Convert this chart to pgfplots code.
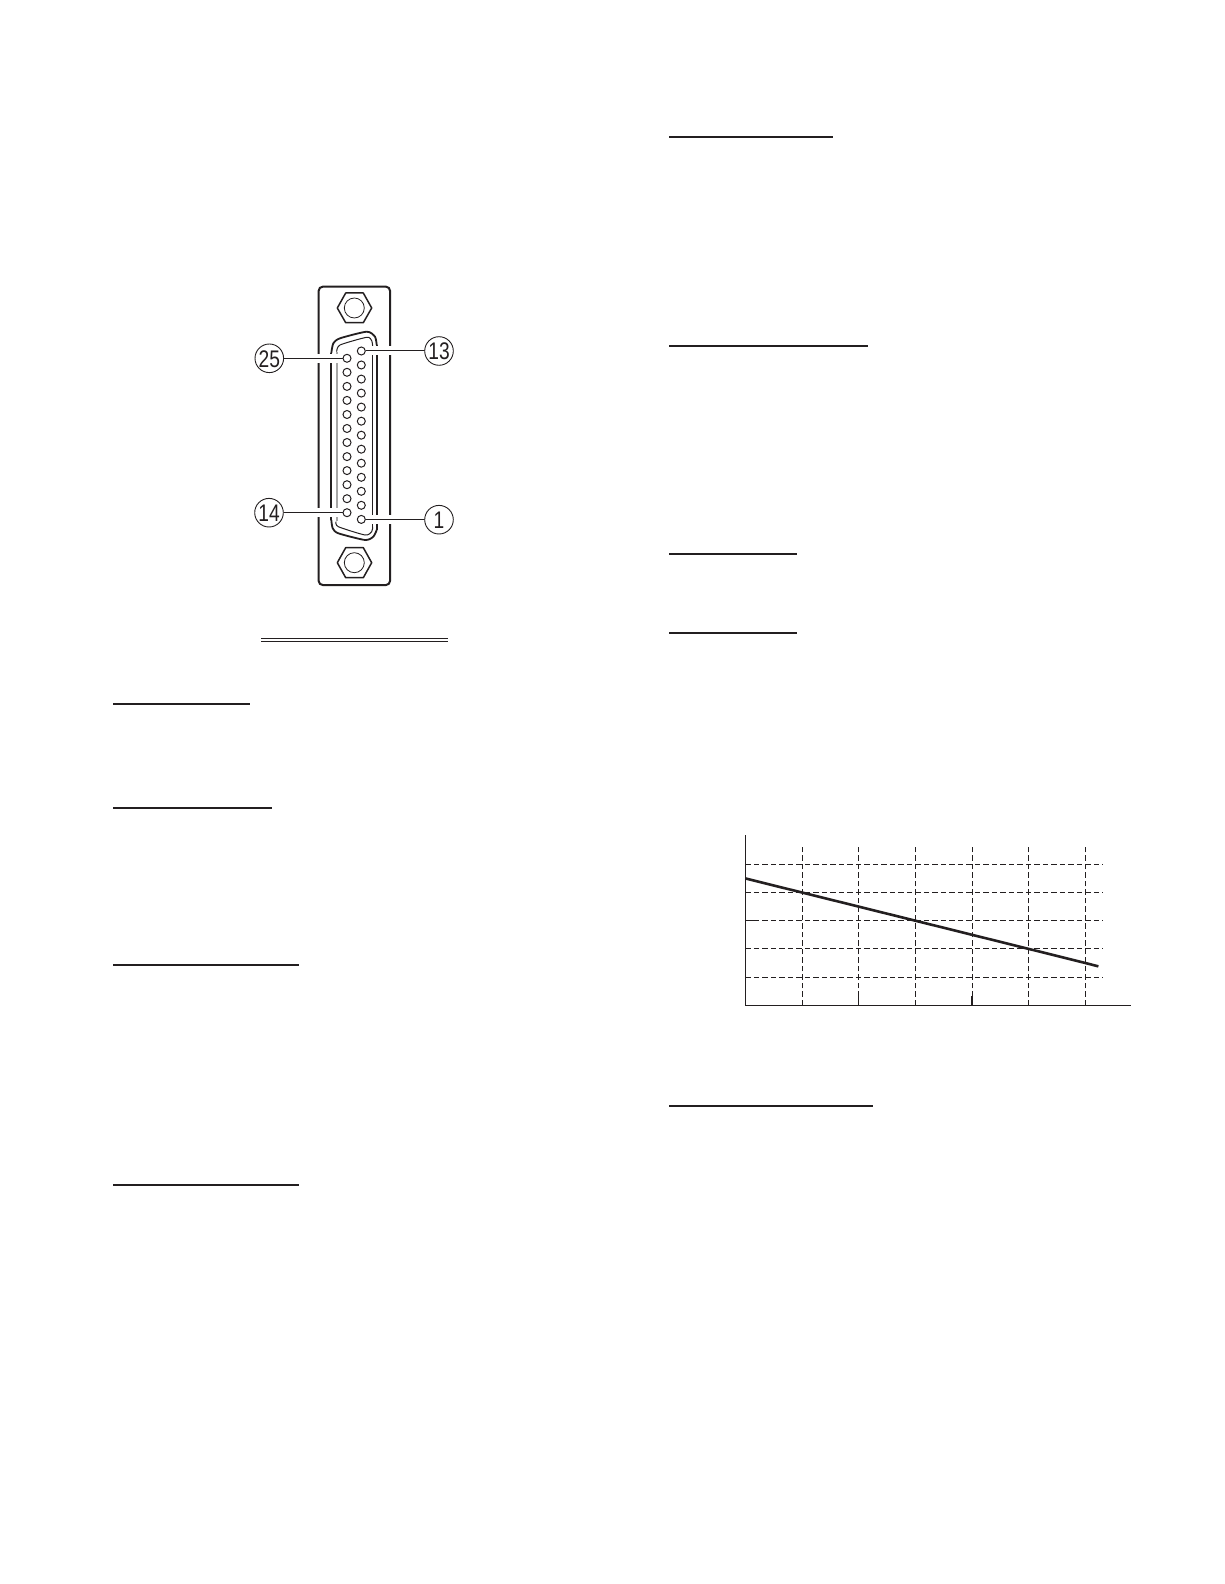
\documentclass[border=0pt]{standalone}
\usepackage{fontspec}
\setmainfont{Liberation Sans}
\usepackage{graphicx}
\usepackage{pgfplots}
\pgfplotsset{compat=1.18}
\definecolor{ink}{HTML}{231F20}

\newcommand{\numlabel}[2]{\node[text=ink,inner sep=0pt,font=\fontsize{24}{24}\selectfont] at (axis cs:#1) {\scalebox{0.8}[1]{#2}};}

\begin{document}
\begin{tikzpicture}
\path[use as bounding box] (0,0) rectangle (1224pt,1584pt);

% whole page, in image pixels
\begin{axis}[
    at={(0,0)}, anchor=south west,
    width=1224pt, height=1584pt, scale only axis,
    xmin=0, xmax=1224, ymin=0, ymax=1584,
    y dir=reverse, hide axis, clip=false,
    % marks are drawn after everything else, so the numbers go in here
    after end axis/.code={
        \numlabel{269.3,358.8}{25}
        \numlabel{439,351.5}{13}
        \numlabel{269,513.2}{14}
        \numlabel{439,520.2}{1}
    },
]
% heading rules
\addplot[ink, line width=2pt] coordinates {(113,704)(250,704)};
\addplot[ink, line width=2pt] coordinates {(113,808)(272,808)};
\addplot[ink, line width=2pt] coordinates {(113,965)(299,965)};
\addplot[ink, line width=2pt] coordinates {(113,1185)(299,1185)};
\addplot[ink, line width=2pt] coordinates {(669,137)(833,137)};
\addplot[ink, line width=2pt] coordinates {(669,346)(868,346)};
\addplot[ink, line width=2pt] coordinates {(669,554)(797,554)};
\addplot[ink, line width=2pt] coordinates {(669,633)(797,633)};
\addplot[ink, line width=2pt] coordinates {(669,1105.7)(873,1105.7)};
% double rule under the connector
\addplot[ink, line width=1pt] coordinates {(261,638.3)(448,638.3)};
\addplot[ink, line width=1pt] coordinates {(261,641.3)(448,641.3)};

% plate
\addplot[ink, line width=2pt, rounded corners=4pt] coordinates {
    (318.7,440)(318.7,286.7)(390,286.7)(390,585)(318.7,585)(318.7,440)};
% nuts
\addplot[ink, line width=1.5pt, line join=round] coordinates {
    (337.3,308)(345.7,293)(363.3,293)(371.7,308)(363.3,322.7)(345.7,322.7)(337.3,308)};
\addplot[ink, line width=1.5pt, line join=round] coordinates {
    (337.3,562.7)(345.7,547.7)(363.3,547.7)(371.7,562.7)(363.3,577.7)(345.7,577.7)(337.3,562.7)};
\addplot[only marks, mark=o, mark size=10pt, mark options={draw=ink, line width=0.8pt}] coordinates {
    (354.3,308)(354.3,562.7)};
% shell
\addplot[ink, line width=1.8pt, smooth, tension=0.4] coordinates {
    (331.3,353)(333.3,343.3)(340,338.3)(366.7,331.7)(375,336.7)(376.7,345)};
\addplot[ink, line width=1.8pt, smooth, tension=0.4] coordinates {
    (331.3,520)(332.7,528.3)(338.3,533.3)(365,540)(373.3,536.7)(376.7,530)};
\addplot[ink, line width=1.8pt] coordinates {(331.3,353)(331.3,520)};
\addplot[ink, line width=1.8pt] coordinates {(376.7,345)(376.7,530)};
\addplot[ink, line width=1pt, smooth, tension=0.4] coordinates {
    (336.7,351.7)(340,345)(366.7,337.3)(371.7,340.7)(372.7,346.7)};
\addplot[ink, line width=1pt, smooth, tension=0.4] coordinates {
    (336,521.7)(338.3,526.7)(365,535)(371.7,531.7)(372.7,526.7)};
\addplot[gray!70, line width=2pt] coordinates {(336.5,352)(336.5,521)};
\addplot[ink, line width=1.2pt] coordinates {(372.7,347)(372.7,527)};

% leaders, with the white gap they cut through the outline
\addplot[white, line width=9pt] coordinates {(284,358.3)(340,358.3)};
\addplot[white, line width=9pt] coordinates {(284,512.7)(340,512.7)};
\addplot[white, line width=9pt] coordinates {(368,351)(424,351)};
\addplot[white, line width=9pt] coordinates {(368,519.5)(424,519.5)};
\addplot[ink, line width=1pt] coordinates {(283.8,358.3)(342.5,358.3)};
\addplot[ink, line width=1pt] coordinates {(283.5,512.7)(342.5,512.7)};
\addplot[ink, line width=1pt] coordinates {(365.5,351)(424.5,351)};
\addplot[ink, line width=1pt] coordinates {(365.5,519.5)(424.5,519.5)};

% pins 14-25 and 1-13
\addplot[only marks, mark=*, mark size=4pt, mark options={fill=white, draw=ink, line width=1pt}] coordinates {
    (347,358.3)(347,372.3)(347,386.4)(347,400.4)(347,414.5)(347,428.5)
    (347,442.5)(347,456.6)(347,470.6)(347,484.7)(347,498.7)(347,512.7)};
\addplot[only marks, mark=*, mark size=4pt, mark options={fill=white, draw=ink, line width=1pt}] coordinates {
    (361.3,351)(361.3,365)(361.3,379.1)(361.3,393.1)(361.3,407.1)(361.3,421.2)(361.3,435.2)
    (361.3,449.2)(361.3,463.2)(361.3,477.3)(361.3,491.3)(361.3,505.3)(361.3,519.4)};

% numbered balloons
\addplot[only marks, mark=*, mark size=14.3pt, mark options={fill=white, draw=ink, line width=0.9pt}] coordinates {
    (269.3,358.3)(439,351)(269,512.7)(439,519.7)};
\end{axis}

% the chart
\begin{axis}[
    at={(745.3pt,578.7pt)}, anchor=south west,
    width=385.4pt, height=170.3pt, scale only axis,
    xmin=0, xmax=6.8, ymin=0, ymax=6.04,
    axis lines=left, axis line style={ink, line width=1pt, -},
    xtick=\empty, ytick=\empty,
    clip=false,
]
\pgfplotsinvokeforeach{1,2,3,4,5,6}{
    \addplot[ink, line width=0.9pt, dash pattern=on 5.5pt off 3pt] coordinates {(#1,0)(#1,5.65)};
}
\pgfplotsinvokeforeach{1,2,3,4,5}{
    \addplot[ink, line width=0.9pt, dash pattern=on 5.5pt off 3pt] coordinates {(0,#1)(6.31,#1)};
}
% little stubs left over on the axes
\addplot[ink, line width=1.5pt] coordinates {(2,0)(2,0.33)};
\addplot[ink, line width=1.5pt] coordinates {(4,0)(4,0.33)};
\addplot[ink, line width=1.5pt] coordinates {(0,3)(0.15,3)};
\addplot[ink, line width=2.6pt] coordinates {
    (0,4.5)(1,4)(2,3.5)(3,3)(4,2.5)(5,2)(6,1.5)(6.23,1.38)};
\end{axis}
\end{tikzpicture}
\end{document}
